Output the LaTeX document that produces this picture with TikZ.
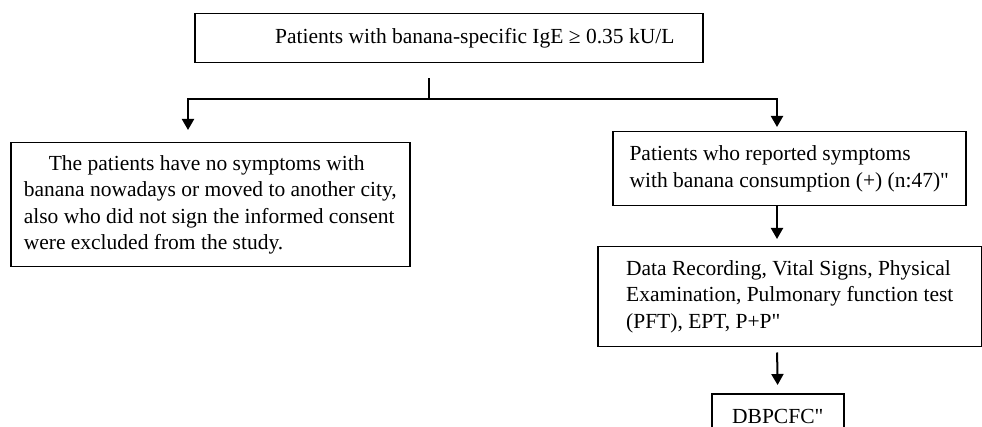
\documentclass[tikz,border=0pt]{standalone}
\usepackage{fontspec}
\setmainfont{Liberation Serif}
\usetikzlibrary{arrows.meta}

\begin{document}
\begin{tikzpicture}[>={Triangle[width=12pt,length=11pt]}, x=1pt, y=-1pt]

\tikzstyle{box}=[draw, line width=1.5pt, rectangle, anchor=north west, align=left, font=\fontsize{21.5pt}{26.5pt}\selectfont]
\tikzstyle{line}=[line width=2pt]
\tikzstyle{arrow}=[->, line width=2pt]

\useasboundingbox (0,0) rectangle (982,427);

% --- boxes ---
\node[box, minimum width=508pt, minimum height=49pt] (ige) at (194,13) {\hspace*{52pt}Patients with banana-specific IgE ≥ 0.35 kU/L};
\node[box, minimum width=399pt, minimum height=124pt] (excl) at (10,142) {\hspace*{25pt}The patients have no symptoms with\\banana nowadays or moved to another city,\\also who did not sign the informed consent\\were excluded from the study.};
\node[box, minimum width=353pt, minimum height=74pt] (sympt) at (612,131) {Patients who reported symptoms\\with banana consumption (+) (n:47)\textquotedbl};
\node[box, minimum width=384pt, minimum height=100pt] (exam) at (597,246) {Data Recording, Vital Signs, Physical\\Examination, Pulmonary function test\\(PFT), EPT, P+P\textquotedbl};
\node[box, align=center, minimum width=132pt, minimum height=46pt] (dbp) at (711,393) {DBPCFC\textquotedbl};

% --- split ---
\coordinate (jm) at (429,99.5);
\coordinate (jl) at (188,99.5);
\coordinate (jr) at (777,99.5);
\draw[line, shorten <=15pt] (jm |- ige.south) -- (jm);
\draw[arrow, shorten >=12pt] (jm) -| (jl |- excl.north);
\draw[arrow, shorten >=4pt] (jm) -| (jr |- sympt.north);

% --- right branch ---
\draw[arrow, shorten >=7pt] (jr |- sympt.south) -- (jr |- exam.north);
\draw[arrow, shorten <=5pt, shorten >=8pt] (jr |- exam.south) -- (dbp.north);

\end{tikzpicture}
\end{document}
